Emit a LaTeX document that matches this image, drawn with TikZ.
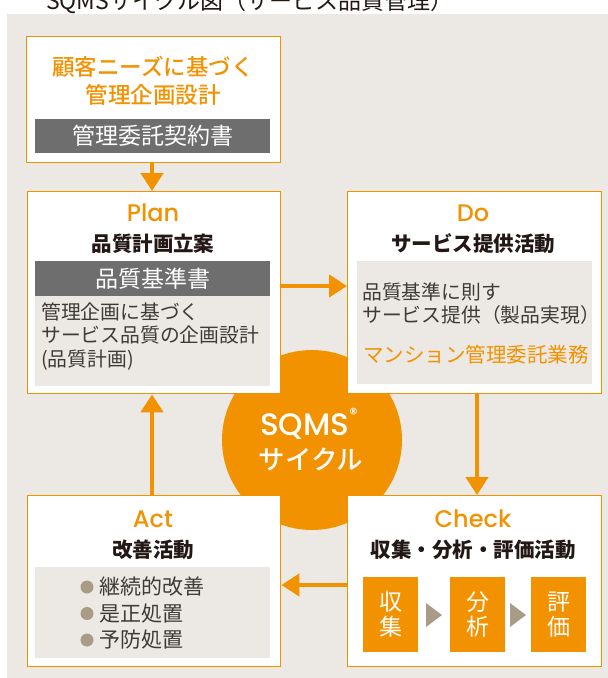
\documentclass[tikz,border=0pt]{standalone}
\usepackage{fontspec}
\setmainfont{Noto Sans CJK JP}
\newfontfamily\jpm{Noto Sans CJK JP Medium}
\newfontfamily\lat{Poppins Medium}
\usetikzlibrary{arrows.meta}
\definecolor{org}{HTML}{F39200}
\definecolor{bgc}{HTML}{ECE9E4}
\definecolor{barc}{HTML}{6E6E6E}
\definecolor{txt}{HTML}{231815}
\definecolor{body}{HTML}{3E3A39}
\definecolor{taupe}{HTML}{A99C87}
\newcommand\fsz[2]{\fontsize{#1}{#2}\selectfont}
\tikzset{
  box/.style={draw=org, line width=1.4pt, fill=white, inner sep=0pt, anchor=north west},
  darkbar/.style={fill=barc, inner sep=0pt, anchor=north west, text=white, font=\fsz{23}{23}},
  pale/.style={fill=bgc, inner sep=0pt, anchor=north west},
  phase/.style={text=org, inner sep=0pt, font=\lat\fsz{24}{24}},
  head/.style={text=txt, inner sep=0pt, font=\bfseries\fsz{20.5}{20.5}},
  bodytxt/.style={text=body, inner sep=0pt, font=\fsz{19.8}{23.5}, align=left},
  arr/.style={draw=org, line width=4.5pt, -{Triangle[length=18pt,width=22pt]}},
  sq/.style={fill=org, inner sep=0pt, minimum width=55pt, minimum height=75pt, anchor=north west, text=white, font=\fsz{23}{25}, align=center},
  tri/.style={fill=taupe},
  dot/.style={circle, fill=taupe, inner sep=0pt, minimum size=13pt}
}
\begin{document}
\begin{tikzpicture}[x=1pt,y=-1pt]
\useasboundingbox (0,0) rectangle (608,678);
\fill[bgc] (7,14) rectangle (608,678);
% clipped title
\begin{scope}
\clip (0,0) rectangle (608,13);
\node[anchor=base west, inner sep=0pt, text=txt, font=\fsz{23}{23}] (ttl) at (46,9) {SQMSサイクル図（サービス品質管理）};
\end{scope}
% central circle
\node[circle, fill=org, minimum size=180pt, inner sep=0pt] (cyc) at (312,440) {};
% boxes
\node[box, minimum width=254pt, minimum height=126pt] (tp) at (26,36) {};
\node[box, minimum width=253pt, minimum height=202pt] (plan) at (27,191) {};
\node[box, minimum width=254pt, minimum height=202pt] (do) at (347,191) {};
\node[box, minimum width=253pt, minimum height=171pt] (act) at (27,495) {};
\node[box, minimum width=254pt, minimum height=171pt] (chk) at (347,495) {};
% circle text
\node[text=white, inner sep=0pt, font=\lat\fsz{31}{31}] (sqms) at (309,424) {SQMS\raisebox{0.5em}{\fsz{16}{16}®}};
\node[text=white, inner sep=0pt, font=\jpm\fsz{26.5}{26.5}] (cyl) at (311,459) {サイクル};
% top box
\node[text=org, inner sep=0pt, font=\jpm\fsz{22.5}{28}, align=center] (needs) at (153,81) {顧客ニーズに基づく\\管理企画設計};
\node[darkbar, minimum width=235pt, minimum height=34pt] (contract) at (35,119) {管理委託契約書};
% plan
\node[phase] (planL) at (153,213) {Plan};
\node[head] (planH) at (153,244) {品質計画立案};
\node[darkbar, minimum width=235pt, minimum height=35pt] (std) at (35,261) {品質基準書};
\node[pale, minimum width=235pt, minimum height=90pt] (planP) at (35,296) {};
\node[bodytxt, anchor=west] (planT) at (41,336.5) {管理企画に基づく\\サービス品質の企画設計\\(品質計画)};
% do
\node[phase] (doL) at (473,213) {Do};
\node[head] (doH) at (473,244) {サービス提供活動};
\node[pale, minimum width=235pt, minimum height=123pt] (doP) at (357,261) {};
\node[bodytxt, anchor=west] (doT) at (362,303.5) {品質基準に則す\\サービス提供（製品実現）};
\node[text=org, inner sep=0pt, font=\fsz{20.5}{20.5}, anchor=west] (mansion) at (363,355) {マンション管理委託業務};
% act
\node[phase] (actL) at (153,519) {Act};
\node[head] (actH) at (153,550) {改善活動};
\node[pale, minimum width=235pt, minimum height=91pt] (actP) at (35,567) {};
\node[dot] (b1) at (87,587) {};
\node[dot] (b2) at (87,613.5) {};
\node[dot] (b3) at (87,640) {};
\node[bodytxt, anchor=west, font=\fsz{21}{21}] (a1) at (99,587) {継続的改善};
\node[bodytxt, anchor=west, font=\fsz{21}{21}] (a2) at (99,613.5) {是正処置};
\node[bodytxt, anchor=west, font=\fsz{21}{21}] (a3) at (99,640) {予防処置};
% check
\node[phase] (chkL) at (473,519) {Check};
\node[head] (chkH) at (473,550) {収集・分析・評価活動};
\node[sq] (s1) at (363,577) {収\\集};
\node[sq] (s2) at (450,577) {分\\析};
\node[sq] (s3) at (531,577) {評\\価};
\fill[tri] (426,603) -- (442,615) -- (426,627) -- cycle;
\fill[tri] (510,603) -- (526,615) -- (510,627) -- cycle;
% connectors
\coordinate (pd) at (0,286);
\coordinate (ca) at (0,585);
\coordinate (dc) at (477,0);
\coordinate (vx) at (152,0);
\draw[arr] (tp.south -| vx) -- (plan.north -| vx);
\draw[arr] (plan.east |- pd) -- (do.west |- pd);
\draw[arr] (do.south -| dc) -- (chk.north -| dc);
\draw[arr] (chk.west |- ca) -- (act.east |- ca);
\draw[arr] (act.north -| vx) -- (plan.south -| vx);
\end{tikzpicture}
\end{document}
